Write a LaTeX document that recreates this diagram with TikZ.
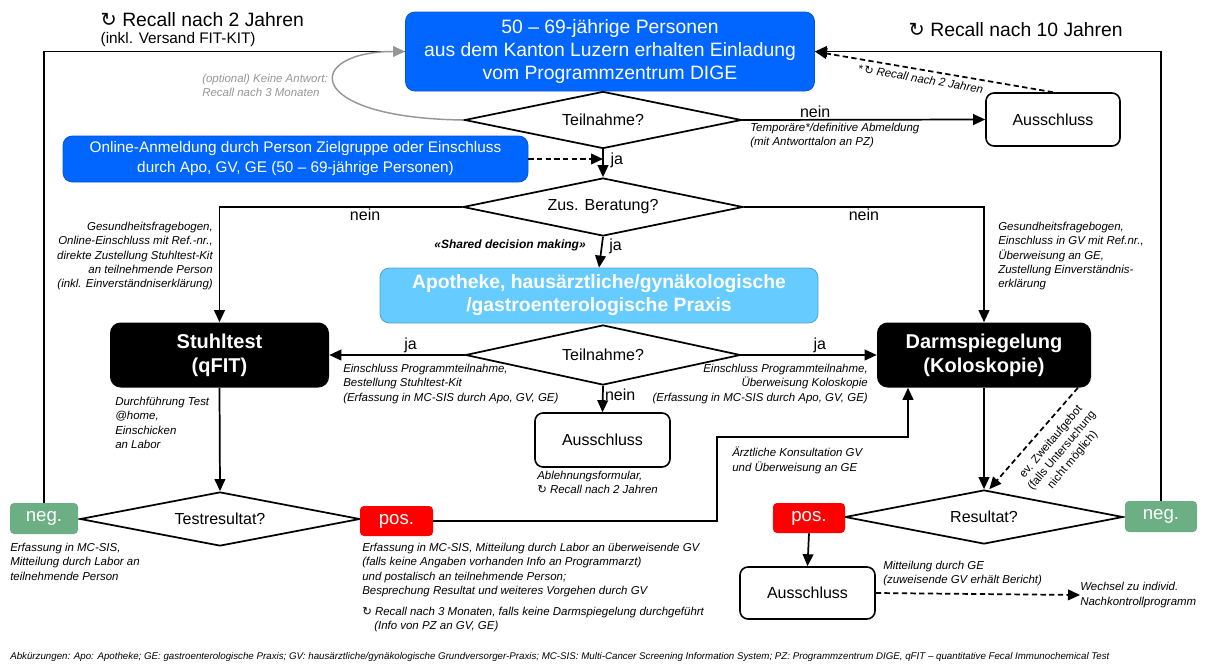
\documentclass[tikz,border=0pt]{standalone}
\usepackage{fontspec}
\setmainfont{Liberation Sans}
\newfontfamily\symfont{DejaVu Sans}
\usetikzlibrary{shapes.geometric,arrows.meta}
\definecolor{digeblue}{RGB}{0,102,255}
\definecolor{apoblue}{RGB}{102,204,255}
\definecolor{neggreen}{RGB}{108,175,133}
\definecolor{posred}{RGB}{255,0,0}
\definecolor{loopgray}{RGB}{150,150,150}
\newcommand{\rc}{{\symfont\char"21BB}}

\begin{document}
\begin{tikzpicture}[x=0.75pt, y=-0.75pt,
    bluebox/.style={rectangle, rounded corners=7pt, fill=digeblue, draw=digeblue!85!black, line width=0.6pt, text=white, align=center, inner sep=0pt},
    apobox/.style={rectangle, rounded corners=7pt, fill=apoblue, draw=apoblue!80!black, line width=0.6pt, text=white, align=center, inner sep=0pt, font=\fontsize{14.5}{17.3}\selectfont\bfseries},
    blackbox/.style={rectangle, rounded corners=8pt, fill=black, text=white, align=center, inner sep=0pt, font=\fontsize{15}{18}\selectfont\bfseries},
    ausbox/.style={rectangle, rounded corners=6pt, draw, line width=1.2pt, inner sep=0pt, font=\fontsize{12}{14}\selectfont},
    decision/.style={diamond, draw, line width=1.3pt, aspect=5, inner sep=0pt, font=\fontsize{12}{14}\selectfont},
    resbox/.style={rectangle, rounded corners=3pt, text=white, inner sep=0pt, font=\fontsize{14}{16}\selectfont},
    anno/.style={font=\fontsize{8.6}{10.7}\selectfont\itshape, align=left, inner sep=0pt},
    lbl/.style={font=\fontsize{12}{14}\selectfont, inner sep=1pt},
    flow/.style={line width=1.3pt, -{Triangle[length=9pt, width=8pt]}},
    dashflow/.style={flow, dash pattern=on 4pt off 2.5pt}
]
    \useasboundingbox (0,0) rectangle (1207,664);

    % Einladung Programmzentrum
    \node[bluebox, minimum width=306.75pt, minimum height=59.25pt, font=\fontsize{14.5}{16.9}\selectfont] (dige) at (610,51.5) {50 – 69-jährige Personen\\aus dem Kanton Luzern erhalten Einladung\\vom Programmzentrum DIGE};
    \node[anchor=west, font=\fontsize{14.5}{17}\selectfont] (rc2) at (96,20) {\rc\ Recall nach 2 Jahren};
    \node[anchor=west, font=\fontsize{11.5}{14}\selectfont] (fitkit) at (96,40) {(inkl. Versand FIT-KIT)};
    \node[anchor=west, font=\fontsize{14.5}{17}\selectfont] (rc10) at (904,30) {\rc\ Recall nach 10 Jahren};

    % erste Entscheidung
    \node[decision, minimum width=207.75pt, minimum height=42.75pt] (teil1) at (603,120) {Teilnahme?};
    \node[ausbox, minimum width=100.5pt, minimum height=39.75pt] (aus1) at (1053,119.5) {Ausschluss};
    \node[anno, anchor=north west] (abmeld) at (750,123) {Temporäre*/definitive Abmeldung\\(mit Antworttalon an PZ)};
    \node[anno, text=loopgray, anchor=north west] (optional) at (202,74) {(optional) Keine Antwort:\\Recall nach 3 Monaten};

    % Online-Anmeldung
    \node[bluebox, minimum width=348.75pt, minimum height=34.5pt, font=\fontsize{11.5}{15}\selectfont] (online) at (295.5,159) {Online-Anmeldung durch Person Zielgruppe oder Einschluss\\durch Apo, GV, GE (50 – 69-jährige Personen)};

    % Beratung
    \node[decision, minimum width=210pt, minimum height=43.5pt] (beratung) at (603,207) {Zus. Beratung?};
    \node[apobox, minimum width=328.5pt, minimum height=41.25pt] (apo) at (599,295.5) {Apotheke, hausärztliche/gynäkologische\\/gastroenterologische Praxis};
    \node[anno, font=\fontsize{9}{11}\selectfont\bfseries\itshape, anchor=east] (shared) at (586,245) {«Shared decision making»};
    \node[anno, anchor=north east, align=right] (fragL) at (213,222) {Gesundheitsfragebogen,\\Online-Einschluss mit Ref.-nr.,\\direkte Zustellung Stuhltest-Kit\\an teilnehmende Person\\(inkl. Einverständniserklärung)};
    \node[anno, anchor=north west] (fragR) at (998,222) {Gesundheitsfragebogen,\\Einschluss in GV mit Ref.nr.,\\Überweisung an GE,\\Zustellung Einverständnis-\\erklärung};

    % zweite Teilnahme
    \node[decision, minimum width=206.25pt, minimum height=45pt] (teil2) at (603,355) {Teilnahme?};
    \node[blackbox, minimum width=164.25pt, minimum height=48.75pt] (stuhl) at (219.5,355) {Stuhltest\\(qFIT)};
    \node[blackbox, minimum width=160.5pt, minimum height=48.75pt] (darm) at (984,355) {Darmspiegelung\\(Koloskopie)};
    \node[ausbox, minimum width=101.25pt, minimum height=40.5pt] (aus2) at (602.5,440) {Ausschluss};
    \node[anno, anchor=north west] (einL) at (343,364) {Einschluss Programmteilnahme,\\Bestellung Stuhltest-Kit\\(Erfassung in MC-SIS durch Apo, GV, GE)};
    \node[anno, anchor=north east, align=right] (einR) at (868,364) {Einschluss Programmteilnahme,\\Überweisung Koloskopie\\(Erfassung in MC-SIS durch Apo, GV, GE)};
    \node[anno, anchor=north west] (ablehn) at (537,471) {Ablehnungsformular,\\\rc\ Recall nach 2 Jahren};
    \node[anno, anchor=north west] (home) at (115,397) {Durchführung Test\\@home,\\Einschicken\\an Labor};

    % Testresultat
    \node[decision, minimum width=210pt, minimum height=40.5pt] (test) at (220,519) {Testresultat?};
    \node[resbox, fill=neggreen, minimum width=51pt, minimum height=23.25pt] (negL) at (44,518.5) {neg.};
    \node[resbox, fill=posred, minimum width=54.75pt, minimum height=22.5pt] (posL) at (396.5,521) {pos.};
    \node[anno, anchor=north west] (negtxt) at (10,543) {Erfassung in MC-SIS,\\Mitteilung durch Labor an\\teilnehmende Person};
    \node[anno, anchor=north west] (postxt) at (362,543) {Erfassung in MC-SIS, Mitteilung durch Labor an überweisende GV\\(falls keine Angaben vorhanden Info an Programmarzt)\\und postalisch an teilnehmende Person;\\Besprechung Resultat und weiteres Vorgehen durch GV\\[5pt]\rc\ Recall nach 3 Monaten, falls keine Darmspiegelung durchgeführt\\\hspace*{9pt}(Info von PZ an GV, GE)};
    \node[anno, anchor=north west] (konsult) at (732,447) {Ärztliche Konsultation GV\\und Überweisung an GE};
    \coordinate (bend) at (717,437);

    % Resultat Koloskopie
    \node[decision, minimum width=208.5pt, minimum height=40.5pt] (result) at (984,517) {Resultat?};
    \node[resbox, fill=posred, minimum width=54pt, minimum height=22.5pt] (posR) at (809,518) {pos.};
    \node[resbox, fill=neggreen, minimum width=54pt, minimum height=23.25pt] (negR) at (1161,516.5) {neg.};
    \node[ausbox, minimum width=101.25pt, minimum height=39pt] (aus3) at (807.5,593) {Ausschluss};
    \node[anno, anchor=north west] (mitteil) at (883,561) {Mitteilung durch GE\\(zuweisende GV erhält Bericht)};
    \node[anno, anchor=west] (wechsel) at (1080,595) {Wechsel zu individ.\\Nachkontrollprogramm};
    \node[font=\fontsize{8.6}{10.5}\selectfont, align=center, inner sep=0pt, rotate=50] (zweit) at (1062,451) {ev. Zweitaufgebot\\(falls Untersuchung\\nicht möglich)};

    % Verbindungen
    \draw[line width=1.3pt] (negL.north) |- (dige.west);
    \draw[line width=1.1pt, loopgray, -{Triangle[length=9pt, width=8pt]}] (teil1.west) .. controls +(-163,-2) and +(-101,0) .. (dige.west);
    \draw[flow] (negR.north) |- (dige.east);
    \draw[dashflow] (aus1.north) -- node[anno, sloped, below=3pt, pos=0.55] (recall2s) {*\,\rc\ Recall nach 2 Jahren} (dige.east);
    \draw[flow] (teil1.east) -- node[lbl, above, pos=0.3] (nein1) {nein} (aus1.west);
    \draw[flow] (teil1.south) -- node[lbl, right=4pt, pos=0.4] (ja1) {ja} (beratung.north);
    \draw[dashflow] (online.east) -- (online.east -| teil1.south);
    \draw[flow] (beratung.west) -| node[lbl, below, pos=0.2] (nein2) {nein} (stuhl.north);
    \draw[flow] (beratung.east) -| node[lbl, below, pos=0.25] (nein3) {nein} (darm.north);
    \draw[flow] (beratung.south) -- node[lbl, right=4pt, pos=0.3] (ja2) {ja} (apo.north);
    \draw[flow] (teil2.west) -- node[lbl, above, pos=0.4] (ja3) {ja} (stuhl.east);
    \draw[flow] (teil2.east) -- node[lbl, above, pos=0.58] (ja4) {ja} (darm.west);
    \draw[flow] (teil2.south) -- node[lbl, right, pos=0.35] (nein4) {nein} (aus2.north);
    \draw[flow] (stuhl.south) -- (test.north);
    \draw[flow] (posL.east) -| (bend) -| ([xshift=-57pt]darm.south);
    \draw[flow] (darm.south) -- (result.north);
    \draw[dashflow] ([xshift=-10pt]darm.south east) -- ([xshift=4pt]result.north);
    \draw[flow] (posR.south) -- (aus3.north);
    \draw[dashflow] (aus3.east) -- (wechsel.west);

    % Fusszeile
    \node[anchor=west, font=\fontsize{7.3}{8}\selectfont\itshape, inner sep=0pt] (abk) at (10,657) {Abkürzungen: Apo: Apotheke; GE: gastroenterologische Praxis; GV: hausärztliche/gynäkologische Grundversorger-Praxis; MC-SIS: Multi-Cancer Screening Information System; PZ: Programmzentrum DIGE, qFIT – quantitative Fecal Immunochemical Test};
\end{tikzpicture}
\end{document}
